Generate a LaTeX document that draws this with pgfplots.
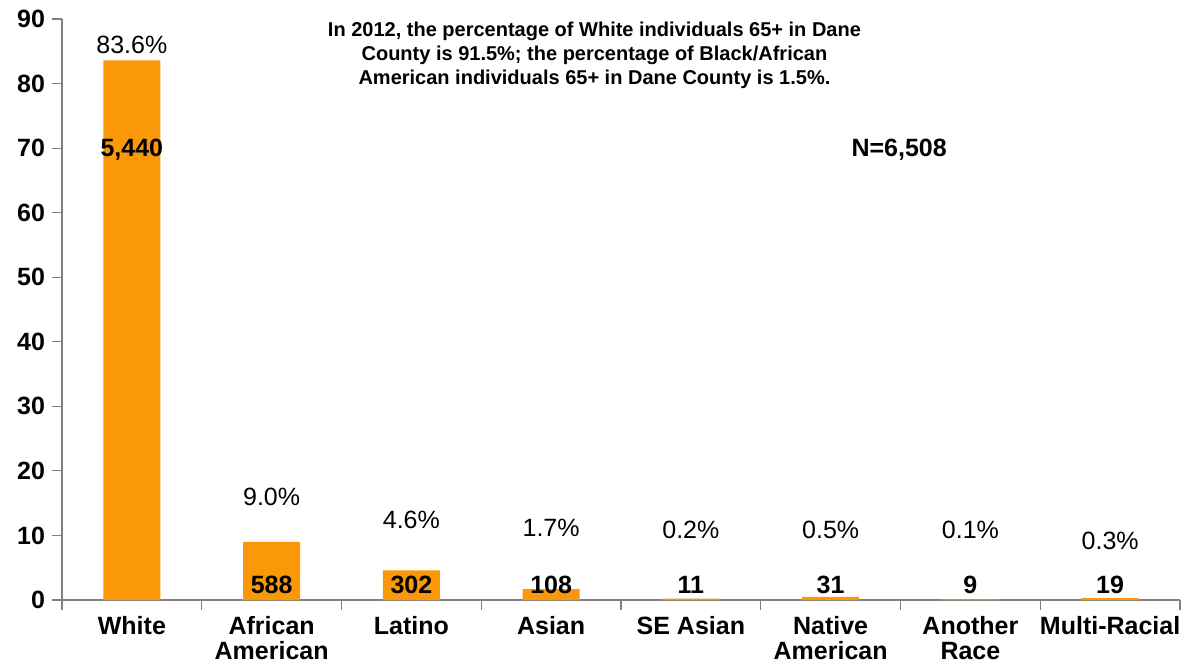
\documentclass[border=0pt]{standalone}
\usepackage{pgfplots}
\pgfplotsset{compat=1.18}
\usepackage{fontspec}
\setmainfont{Liberation Sans}
\definecolor{barorange}{RGB}{250,152,10}
\definecolor{axgray}{RGB}{128,128,128}
\begin{document}
\begin{tikzpicture}
\begin{axis}[
  scale only axis, width=559pt, height=290.5pt,
  xmin=-0.5, xmax=7.5, ymin=0, ymax=90,
  axis x line*=bottom, axis y line*=left,
  axis line style={axgray, line width=0.6pt},
  xtick={0,...,7},
  xticklabels={White,African\\American,Latino,Asian,SE Asian,Native\\American,Another\\Race,Multi-Racial},
  major x tick style={draw=none},
  minor xtick={-0.5,0.5,...,7.5},
  minor tick length=5pt,
  minor x tick style={axgray, line width=0.6pt},
  ytick={0,10,...,90},
  y tick style={axgray, line width=0.6pt},
  major tick length=5pt,
  tick align=outside,
  /pgf/number format/assume math mode=true,
  ticklabel style={font=\fontsize{12.5}{12.3}\selectfont\bfseries},
  xticklabel style={align=center, anchor=north, yshift=-1pt, inner sep=2pt},
  clip=false,
]
\addplot[ybar, bar width=28.5pt, fill=barorange, draw=none, bar shift=0pt]
  coordinates {(0,83.6) (1,9.0) (2,4.6) (3,1.7) (4,0.2) (5,0.5) (6,0.1) (7,0.3)};
% percent labels
\addplot[draw=none, mark=none, nodes near coords, point meta=explicit symbolic,
  every node near coord/.style={anchor=center, font=\fontsize{12.5}{14}\selectfont}]
  table[meta=lab] {
x y lab
0 86.0 83.6\%
1 16.0 9.0\%
2 12.4 4.6\%
3 11.2 1.7\%
4 10.8 0.2\%
5 10.8 0.5\%
6 10.8 0.1\%
7 9.1 0.3\%
};
% count labels
\addplot[draw=none, mark=none, nodes near coords, point meta=explicit symbolic,
  every node near coord/.style={anchor=center, font=\fontsize{12.5}{14}\selectfont\bfseries}]
  table[meta=lab] {
x y lab
0 69.7 {5,440}
1 2.3 588
2 2.3 302
3 2.3 108
4 2.3 11
5 2.3 31
6 2.3 9
7 2.3 19
};
\node[align=center, font=\fontsize{10}{12}\selectfont\bfseries] at (axis cs:3.31,84.4)
  {In 2012, the percentage of White individuals 65+ in Dane\\County is 91.5\%; the percentage of Black/African\\American individuals 65+ in Dane County is 1.5\%.};
\node[font=\fontsize{12.5}{14}\selectfont\bfseries] at (axis cs:5.49,69.7) {N=6,508};
\end{axis}
\pgfresetboundingbox
\path[use as bounding box] ([xshift=-31pt,yshift=-33.5pt]current axis.south west) rectangle ([xshift=2pt,yshift=9.5pt]current axis.north east);
\end{tikzpicture}
\end{document}
